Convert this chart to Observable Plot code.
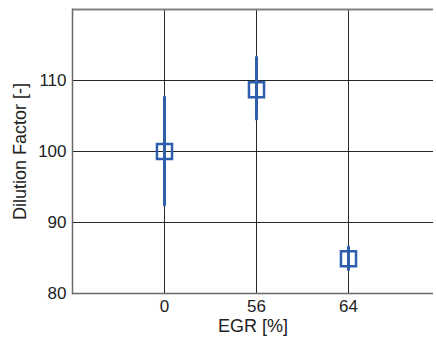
<!DOCTYPE html>
<html>
<head>
<meta charset="utf-8">
<script src="https://cdn.jsdelivr.net/npm/d3@7"></script>
<script src="https://cdn.jsdelivr.net/npm/@observablehq/plot@0.6"></script>
<style>
  html, body { margin: 0; padding: 0; background: #fff; }
  #chart svg { display: block; }
</style>
</head>
<body>
<div id="chart"></div>
<script>
const egr = ["0", "56", "64"];
const dilution = [100, 108.7, 84.9];
const errLow = [92.4, 104.5, 83.3];
const errHigh = [107.6, 113.2, 86.5];
const yTicks = [80, 90, 100, 110];

const data = egr.map((e, i) => ({egr: e, y: dilution[i], lo: errLow[i], hi: errHigh[i]}));

const blue = "#2d5fac";
const chart = Plot.plot({
  width: 436,
  height: 340,
  marginLeft: 72,
  marginTop: 9,
  marginBottom: 47,
  marginRight: 3,
  style: {fontFamily: "'Liberation Sans', Arial, sans-serif", fontSize: "17px", color: "#222", background: "#fff"},
  x: {type: "point", domain: egr, range: [72, 440], padding: 1, label: null},
  y: {domain: [80, 120], label: null},
  marks: [
    Plot.gridX(egr, {stroke: "#111", strokeOpacity: 0.9, strokeWidth: 1}),
    Plot.gridY(yTicks, {stroke: "#111", strokeOpacity: 0.9, strokeWidth: 1}),
    Plot.ruleY([120], {stroke: "#808080", strokeWidth: 2}),
    Plot.ruleY([80], {stroke: "#6a6a6a", strokeWidth: 1.5}),
    Plot.frame({anchor: "left", stroke: "#6a6a6a", strokeWidth: 1.5}),
    Plot.axisY(yTicks, {tickSize: 0, tickPadding: 6, fontSize: 17, label: null}),
    Plot.axisX(egr, {tickSize: 0, tickPadding: 6, fontSize: 17, label: null}),
    Plot.text(["EGR [%]"], {frameAnchor: "bottom", dy: 33, fontSize: 18, lineAnchor: "middle"}),
    Plot.text(["Dilution Factor [-]"], {frameAnchor: "left", dx: -52, rotate: -90, fontSize: 18, textAnchor: "middle", lineAnchor: "middle"}),
    Plot.ruleX(data, {x: "egr", y1: "lo", y2: "hi", stroke: blue, strokeWidth: 3, strokeLinecap: "round"}),
    Plot.dot(data, {x: "egr", y: "y", symbol: "square", r: 8.5, stroke: blue, strokeWidth: 2.5, fill: "none"})
  ]
});
document.getElementById("chart").appendChild(chart);
</script>
</body>
</html>
